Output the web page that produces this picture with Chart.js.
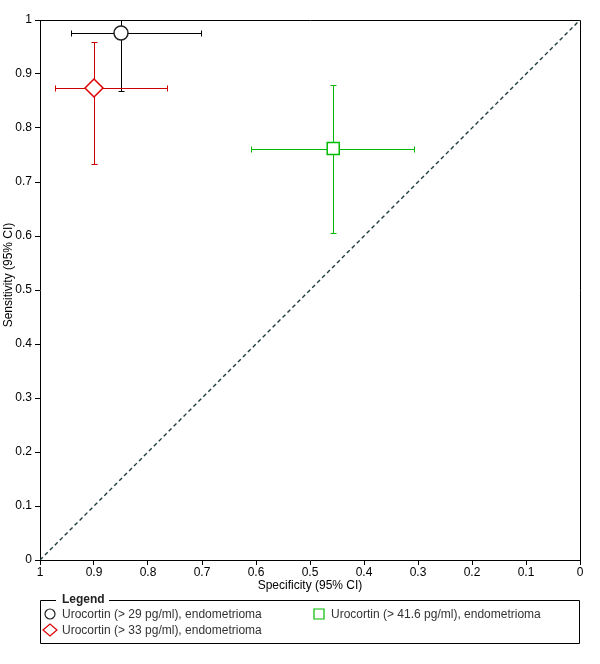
<!DOCTYPE html>
<html>
<head>
<meta charset="utf-8">
<script src="https://cdn.jsdelivr.net/npm/chart.js@4.4.0/dist/chart.umd.min.js"></script>
<style>
  html, body { margin: 0; padding: 0; background: #fff; }
  #wrap { width: 600px; height: 664px; }
</style>
</head>
<body>
<div id="wrap"><canvas id="roc" width="600" height="664"></canvas></div>
<script>
// series (one point per test threshold)
const seriesNames = [
  "Urocortin (> 29 pg/ml), endometrioma",
  "Urocortin (> 33 pg/ml), endometrioma",
  "Urocortin (> 41.6 pg/ml), endometrioma"
];
const specificity = [0.85, 0.90, 0.457];
const specLower = [0.702, 0.765, 0.308];
const specUpper = [0.943, 0.972, 0.610];
const sensitivity = [0.976, 0.874, 0.762];
const sensLower = [0.868, 0.733, 0.605];
const sensUpper = [1.0, 0.959, 0.879];
const tickValues = [0, 0.1, 0.2, 0.3, 0.4, 0.5, 0.6, 0.7, 0.8, 0.9, 1];
const diagonal = [{ x: 1, y: 0 }, { x: 0, y: 1 }];

const colors = ["#222222", "#dd0000", "#00bb00"];
const barColors = ["#000000", "#cc0000", "#00bb00"];
const shapes = ["circle", "rectRot", "rect"];
const radii = [7, 9, 8.5];
const FONT = "'Liberation Sans', Arial, sans-serif";

const errorBars = {
  id: "errorBars",
  beforeDatasetsDraw(chart) {
    const { ctx, scales: { x, y }, chartArea: a } = chart;
    ctx.save();
    // top and right frame
    ctx.strokeStyle = "#000";
    ctx.lineWidth = 1;
    ctx.beginPath();
    ctx.moveTo(a.left, a.top + 0.5);
    ctx.lineTo(a.right + 0.5, a.top + 0.5);
    ctx.lineTo(a.right + 0.5, a.bottom);
    ctx.stroke();

    const cap = 3;
    specificity.forEach((s, i) => {
      const px = Math.round(x.getPixelForValue(s)) + 0.5;
      const py = Math.round(y.getPixelForValue(sensitivity[i])) + 0.5;
      const x1 = Math.round(x.getPixelForValue(specUpper[i])) + 0.5;
      const x2 = Math.round(x.getPixelForValue(specLower[i])) + 0.5;
      const y1 = Math.round(y.getPixelForValue(sensUpper[i])) + 0.5;
      const y2 = Math.round(y.getPixelForValue(sensLower[i])) + 0.5;
      ctx.strokeStyle = barColors[i];
      ctx.lineWidth = 1;
      ctx.beginPath();
      ctx.moveTo(x1, py); ctx.lineTo(x2, py);
      ctx.moveTo(x1, py - cap); ctx.lineTo(x1, py + cap);
      ctx.moveTo(x2, py - cap); ctx.lineTo(x2, py + cap);
      ctx.moveTo(px, y1); ctx.lineTo(px, y2);
      ctx.moveTo(px - cap, y1); ctx.lineTo(px + cap, y1);
      ctx.moveTo(px - cap, y2); ctx.lineTo(px + cap, y2);
      ctx.stroke();
    });
    ctx.restore();
  },
  afterDraw(chart) {
    const ctx = chart.ctx;
    ctx.save();
    ctx.fillStyle = "#000";
    ctx.font = "12px " + FONT;
    ctx.textAlign = "center";
    ctx.textBaseline = "middle";
    ctx.fillText("Specificity (95% CI)", 310, 586);
    ctx.save();
    ctx.translate(9, 275);
    ctx.rotate(-Math.PI / 2);
    ctx.fillText("Sensitivity (95% CI)", 0, 0);
    ctx.restore();

    // legend box
    ctx.strokeStyle = "#000";
    ctx.lineWidth = 1;
    ctx.beginPath();
    ctx.moveTo(56, 600.5);
    ctx.lineTo(40.5, 600.5);
    ctx.lineTo(40.5, 643.5);
    ctx.lineTo(579.5, 643.5);
    ctx.lineTo(579.5, 600.5);
    ctx.lineTo(109, 600.5);
    ctx.stroke();
    ctx.font = "bold 12px " + FONT;
    ctx.textAlign = "left";
    ctx.fillStyle = "#222";
    ctx.fillText("Legend", 62, 600);

    const spots = [[50, 614], [50, 630], [319, 614]];
    ctx.font = "12px " + FONT;
    seriesNames.forEach((name, i) => {
      const [cx, cy] = spots[i];
      ctx.strokeStyle = colors[i];
      ctx.fillStyle = "#fff";
      ctx.lineWidth = 1.2;
      ctx.beginPath();
      if (shapes[i] === "circle") {
        ctx.arc(cx, cy, 5, 0, Math.PI * 2);
      } else if (shapes[i] === "rectRot") {
        ctx.moveTo(cx - 7, cy); ctx.lineTo(cx, cy - 6);
        ctx.lineTo(cx + 7, cy); ctx.lineTo(cx, cy + 6);
        ctx.closePath();
      } else {
        ctx.rect(cx - 5, cy - 5, 10, 10);
      }
      ctx.fill();
      ctx.stroke();
      ctx.fillStyle = "#333";
      ctx.fillText(name, cx + 12, cy + 1);
    });
    ctx.restore();
  }
};

function axisOpts(reverse, pos) {
  return {
    type: "linear",
    position: pos,
    min: 0,
    max: 1,
    reverse: reverse,
    afterBuildTicks: s => { s.ticks = tickValues.map(v => ({ value: v })); },
    afterFit: s => {
      if (pos === "bottom") s.height = 104; else s.width = 40;
    },
    grid: { drawOnChartArea: false, drawTicks: true, tickLength: 5, color: "#000", lineWidth: 1 },
    border: { display: true, color: "#000", width: 1 },
    ticks: {
      color: "#000",
      font: { family: FONT, size: 12 },
      padding: pos === "bottom" ? 0 : 3,
      maxRotation: 0,
      autoSkip: false,
      callback: v => String(v)
    },
    title: { display: false }
  };
}

const datasets = [{
  type: "line",
  data: diagonal,
  borderColor: "#203c3c",
  borderWidth: 1.4,
  borderDash: [4, 3],
  pointRadius: 0,
  fill: false,
  order: 10
}];
specificity.forEach((s, i) => {
  datasets.push({
    type: "scatter",
    label: seriesNames[i],
    data: [{ x: s, y: sensitivity[i] }],
    pointStyle: shapes[i],
    pointRadius: radii[i],
    pointHoverRadius: radii[i],
    backgroundColor: "#fff",
    borderColor: colors[i],
    pointBorderWidth: 1.5,
    order: 1
  });
});

new Chart(document.getElementById("roc"), {
  type: "scatter",
  data: { datasets },
  options: {
    responsive: false,
    animation: false,
    layout: { padding: { top: 20, right: 20, left: 0, bottom: 0 } },
    plugins: { legend: { display: false }, tooltip: { enabled: false } },
    scales: {
      x: axisOpts(true, "bottom"),
      y: axisOpts(false, "left")
    }
  },
  plugins: [errorBars]
});
</script>
</body>
</html>
